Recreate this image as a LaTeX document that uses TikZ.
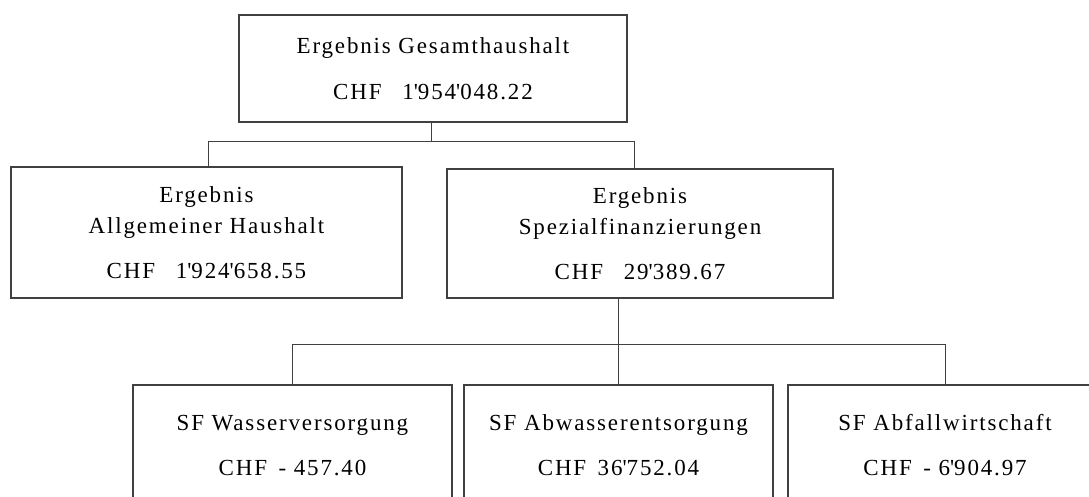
\documentclass[tikz,border=0pt]{standalone}
\usepackage{fontspec}
\setmainfont{Liberation Serif}[LetterSpace=8]
\newcommand{\q}{\textquotesingle}

\begin{document}
\begin{tikzpicture}[x=1pt,y=-1pt,
  box node/.style={rectangle,draw=black!75,line width=1.5pt,align=center,inner sep=0pt,
    font=\fontsize{23}{31}\selectfont},
  link/.style={draw=black!75,line width=1pt}]
  \useasboundingbox (0,0) rectangle (1089,497);
  \clip (0,0) rectangle (1089,497);
  % top level
  \node[box node, minimum width=388pt, minimum height=107pt] (ges) at (433,68.5)
    {Ergebnis Gesamthaushalt\\[15pt]CHF\hspace{0.9em}1\q954\q048.22};
  % second level
  \node[box node, minimum width=391pt, minimum height=131pt] (allg) at (206.5,232.5)
    {Ergebnis\\Allgemeiner Haushalt\\[14pt]CHF\hspace{0.9em}1\q924\q658.55};
  \node[box node, minimum width=386pt, minimum height=129pt] (spez) at (640,233.5)
    {Ergebnis\\Spezialfinanzierungen\\[14pt]CHF\hspace{0.9em}29\q389.67};
  % third level
  \node[box node, minimum width=319pt, minimum height=121pt] (wasser) at (292.5,445.5)
    {SF Wasserversorgung\\[14pt]CHF\hspace{0.5em}- 457.40};
  \node[box node, minimum width=309pt, minimum height=121pt] (abwasser) at (618.5,445.5)
    {SF Abwasserentsorgung\\[14pt]CHF\hspace{0.5em}36\q752.04};
  \node[box node, minimum width=314pt, minimum height=121pt] (abfall) at (945,445.5)
    {SF Abfallwirtschaft\\[14pt]CHF\hspace{0.5em}- 6\q904.97};
  % connectors
  \coordinate (j1) at (431,142);
  \coordinate (j1l) at (208,142);
  \coordinate (j1r) at (634,142);
  \coordinate (j2) at (618,344);
  \coordinate (j2l) at (292.5,344);
  \coordinate (j2r) at (945,344);
  \draw[link] (ges.south -| j1) -- (j1);
  \draw[link] (allg.north -| j1l) -- (j1l) -- (j1r) -- (spez.north -| j1r);
  \draw[link] (spez.south -| j2) -- (abwasser.north -| j2);
  \draw[link] (wasser.north) -- (j2l) -- (j2r) -- (abfall.north);
\end{tikzpicture}
\end{document}
